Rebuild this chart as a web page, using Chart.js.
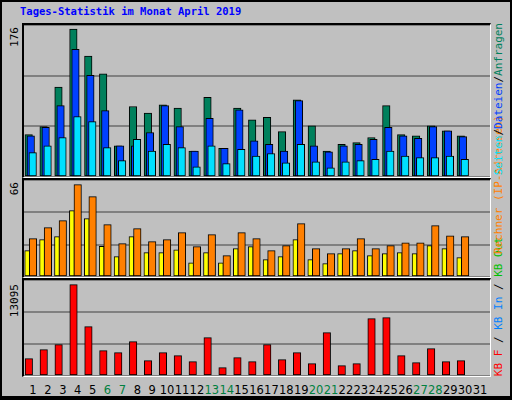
<!DOCTYPE html>
<html><head><meta charset="utf-8">
<script src="https://cdn.jsdelivr.net/npm/chart.js@4/dist/chart.umd.min.js"></script>
<style>
html,body{margin:0;padding:0;background:#c0c0c0;}
#wrap{position:relative;width:508px;height:394px;border:2px solid #000;border-bottom-width:4px;background:#c0c0c0;overflow:hidden;font-family:"DejaVu Sans Mono",monospace;}
.panel{position:absolute;left:20px;width:466px;border-left:2px solid #000;border-top:2px solid #000;border-right:1px solid #fff;border-bottom:1px solid #fff;}
.panel canvas{display:block;}
.vt{position:absolute;writing-mode:vertical-rl;transform:rotate(180deg);font-size:11px;white-space:nowrap;line-height:12px;}
.day{position:absolute;top:381px;font-family:"DejaVu Sans",sans-serif;font-size:11.5px;transform:translateX(-50%);}
</style></head><body>
<div id="wrap">
  <div style="position:absolute;left:18px;top:3px;color:#0000ff;font-weight:bold;font-size:10.5px;">Tages-Statistik im Monat April 2019</div>
  <div class="panel" style="top:21px;height:152px;"><canvas id="c1"></canvas></div>
  <div class="panel" style="top:176px;height:97px;"><canvas id="c2"></canvas></div>
  <div class="panel" style="top:276px;height:96px;"><canvas id="c3"></canvas></div>
  <div class="vt" style="left:7px;top:25px;">176</div>
  <div class="vt" style="left:7px;top:180px;">66</div>
  <div class="vt" style="left:7px;top:282px;">13095</div>
  <div class="vt" style="left:491px;bottom:20px;"><span style="color:#ff0000">KB F</span> / <span style="color:#0080ff">KB In</span> / <span style="color:#00c000">KB Out</span></div>
  <div class="vt" style="left:491px;bottom:142px;color:#ff8000">Rechner (IP-Adressen)</div>
  <div class="vt" style="left:491px;bottom:221px;"><span style="color:#00e0ff">Seiten</span>/<span style="color:#0040ff">Dateien</span>/<span style="color:#00805c">Anfragen</span></div>
  <div id="days"></div>
</div>
<script>
const days = Array.from({length:31},(_,i)=>i+1);
const weekend = [6,7,13,14,20,21,27,28];
const hits  = [50.5,60,107,176,144,123,37,84,76,86,82,31,95,34,82,68,71,54,92,61,31,39,41,47,85,50.5,49,61,55,49];
const files = [49,59,85,152,121,79,37,37,53,85,60,31,70,34,80,43,39,31,91,37,30,37,39,45,59,49,46,60,55,48];
const pages = [29,37,47,72,66,35,19.5,45,31,39,35,12,37,16,33,25,28,17,39,18,11,18,19.5,21,31,25,23,23,25,21];
const sites = [18.8,26.7,28.8,47.4,41.7,21.9,14.5,28.8,17.4,17.4,19.5,10.2,17.4,10.2,20.3,21.7,12.4,14.5,26.7,12.4,9.5,16.7,18.8,15.3,16.7,17.4,16.7,22.4,20.3,13.8];
const visits= [27.4,35.3,40.3,66,57.4,37.4,23.8,34.6,25.3,26.7,31.7,21.7,30.3,15.3,31.7,27.4,18.8,22.4,38.1,20.3,16.7,20.3,27.4,20.3,22.4,24.5,24.5,36.7,29.5,28.8];
const kbytes= [2486,3776,4493,13095,7074,3633,3346,4923,2199,3346,2916,2055,5497,1195,2629,2055,4493,2342,3346,1769,6214,1482,1769,8221,8365,2916,1912,3920,2055,2199];

const XMIN=0.396, XMAX=31.67;
function ds(vals,off,color,order,w){
  return {data:vals.map((v,i)=>({x:i+1+off,y:v})),backgroundColor:color,borderColor:'#000',borderWidth:1,
    barThickness:w,grouped:false,order:order,borderSkipped:false};
}
function make(id,datasets,ymax){
  return new Chart(document.getElementById(id),{
    type:'bar',data:{datasets},
    options:{responsive:true,maintainAspectRatio:false,animation:false,
      plugins:{legend:{display:false},tooltip:{enabled:false}},
      layout:{padding:0},
      scales:{
        x:{type:'linear',min:XMIN,max:XMAX,offset:false,grace:0,display:false},
        y:{min:0,max:ymax,afterFit:s=>{s.width=0;},
           ticks:{display:false,stepSize:ymax/3},border:{display:false},
           grid:{color:'#808080',lineWidth:2,drawTicks:false,tickLength:0}}
      }}
  });
}
make('c1',[ds(hits,-0.29,'#00805c',2,7.5),ds(files,-0.15,'#0040ff',1,7.5),ds(pages,-0.02,'#00e0ff',0,7.5)],181);
make('c2',[ds(sites,-0.39,'#ffff00',1,5),ds(visits,0,'#ff8000',0,7.5)],69.3);
const c3=make('c3',[ds(kbytes,-0.28,'#ff0000',0,7.5)],13754);
const sx=c3.scales.x, box=document.getElementById('days');
days.forEach(d=>{
  const e=document.createElement('div');e.className='day';
  e.style.left=(22+sx.getPixelForValue(d))+'px';
  e.style.color=weekend.includes(d)?'#008040':'#000';
  e.textContent=d;box.appendChild(e);
});
</script>
</body></html>
